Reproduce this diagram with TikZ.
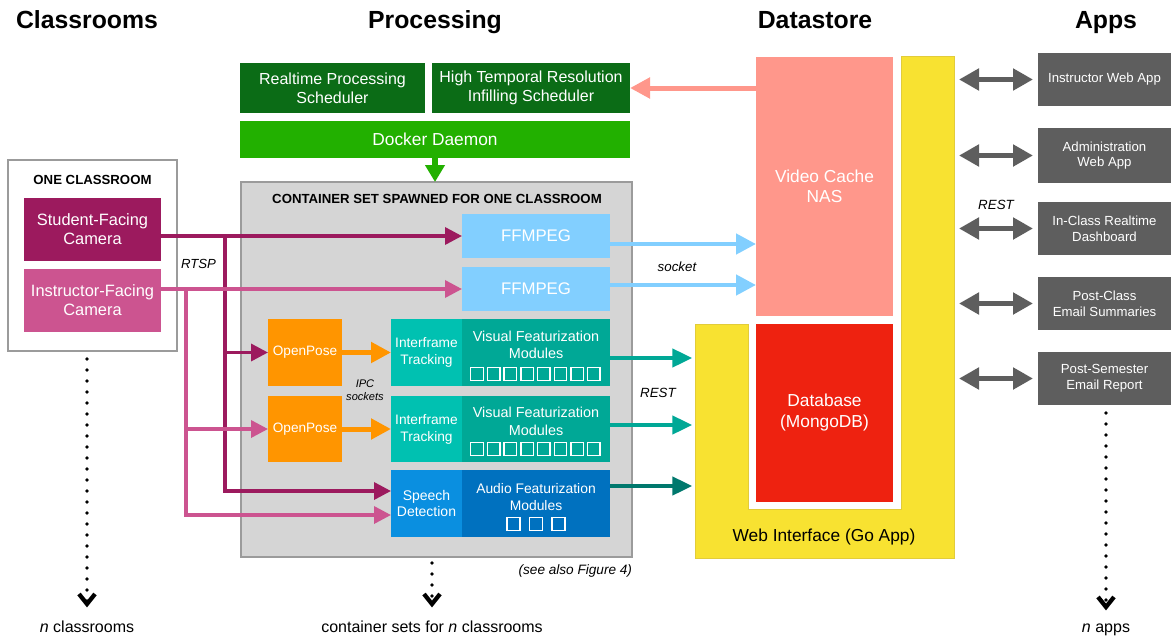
\documentclass[tikz,border=0pt]{standalone}
\usepackage{fontspec}
\setmainfont{Liberation Sans}
\usetikzlibrary{arrows.meta}
\definecolor{stud}{HTML}{9C1A5E}
\definecolor{inst}{HTML}{CC5490}
\definecolor{dgreen}{HTML}{0B6C16}
\definecolor{lgreen}{HTML}{22B000}
\definecolor{contfill}{HTML}{D5D5D5}
\definecolor{contline}{HTML}{9B9B9B}
\definecolor{ffblue}{HTML}{82CFFF}
\definecolor{orng}{HTML}{FF9500}
\definecolor{tealL}{HTML}{00C1B1}
\definecolor{tealD}{HTML}{00A896}
\definecolor{sblue}{HTML}{0A8FE0}
\definecolor{ablue}{HTML}{0071BF}
\definecolor{audT}{HTML}{00786D}
\definecolor{salmon}{HTML}{FF978B}
\definecolor{dbred}{HTML}{EE2210}
\definecolor{yel}{HTML}{F8E231}
\definecolor{yelline}{HTML}{E2CC3A}
\definecolor{appgray}{HTML}{5E5E5E}
\newcommand\bx[7]{\node[#1, minimum width={(#4-#2)*0.75pt}, minimum height={(#5-#3)*0.75pt}] (#6) at ({(#2+#4)/2},{(#3+#5)/2}) {#7};}
\begin{document}
\begin{tikzpicture}[x=0.75pt,y=-0.75pt,
  every node/.style={inner sep=0pt,outer sep=0pt},
  fz/.style 2 args={font=\fontsize{#1}{#2}\selectfont},
  cbox/.style={fill=#1, text=white, align=center},
  hdr/.style={font=\fontsize{18.6}{20}\selectfont\bfseries, anchor=base},
  ttl/.style={font=\fontsize{9.9}{11}\selectfont\bfseries},
  itl/.style={font=\fontsize{9.9}{11}\selectfont\itshape},
  sq/.style={draw=white, line width=1pt},
  magA/.style={draw=stud, line width=2.6pt, -{Triangle[length=12.75pt,width=12.75pt]}},
  pinkA/.style={draw=inst, line width=2.6pt, -{Triangle[length=12.75pt,width=12.75pt]}},
  blueA/.style={draw=ffblue, line width=3.4pt, -{Triangle[length=15pt,width=15pt]}},
  tealA/.style={draw=#1, line width=3.2pt, shorten >=2pt, -{Triangle[length=15pt,width=13.5pt]}},
  orA/.style={draw=orng, line width=3.75pt, -{Triangle[length=15pt,width=15pt]}},
  salA/.style={draw=salmon, line width=3.75pt, -{Triangle[length=15pt,width=15pt]}},
  grnA/.style={draw=lgreen, line width=5pt, -{Triangle[length=12.75pt,width=14.25pt]}},
  grayA/.style={draw=appgray, line width=3.75pt, shorten <=3.75pt, shorten >=3.75pt,
     {Triangle[length=15pt,width=15.75pt]}-{Triangle[length=15pt,width=15.75pt]}},
  dotA/.style={draw=black, line width=2.7pt, line cap=round, dash pattern=on 0pt off 8.25pt,
     -{Straight Barb[length=7.5pt,width=12pt,line width=3.2pt]}},
  lbl/.style={font=\fontsize{12}{14}\selectfont, anchor=base}
]
\useasboundingbox (0,0) rectangle (1171,639);

% headers
\node[hdr] (hC) at (87,28) {Classrooms};
\node[hdr] (hP) at (435,28) {Processing};
\node[hdr] (hD) at (815,28) {Datastore};
\node[hdr] (hA) at (1106,28) {Apps};

% classroom
\bx{draw=contline, fill=white, line width=1.6pt}{8}{160}{177}{351}{cls}{}
\node[ttl] (clst) at (92.5,180) {ONE CLASSROOM};
\bx{cbox=stud, fz={12.3}{14.3}}{24}{198}{161}{261}{scam}{Student-Facing\\Camera}
\bx{cbox=inst, fz={12.3}{14.3}}{24}{269}{161}{332}{icam}{Instructor-Facing\\Camera}

% processing
\bx{cbox=dgreen, fz={12}{14.25}}{240}{63}{425}{113}{rps}{Realtime Processing\\Scheduler}
\bx{cbox=dgreen, fz={12}{14.25}}{432}{63}{630}{113}{ht}{High Temporal Resolution\\Infilling Scheduler}
\bx{cbox=lgreen, fz={13}{15}}{240}{121}{630}{158}{dock}{Docker Daemon}
\bx{draw=contline, fill=contfill, line width=1.8pt}{241}{182}{632}{557}{cont}{}
\node[ttl] (contt) at (437,198.5) {CONTAINER SET SPAWNED FOR ONE CLASSROOM};

\bx{cbox=ffblue, fz={12.6}{14}}{462}{214}{610}{258}{ff1}{FFMPEG}
\bx{cbox=ffblue, fz={12.6}{14}}{462}{267}{610}{311}{ff2}{FFMPEG}

\bx{cbox=orng, fz={10.2}{12}}{268}{319}{342}{386}{op1}{OpenPose}
\bx{cbox=orng, fz={10.2}{12}}{268}{396}{342}{462}{op2}{OpenPose}
\bx{cbox=tealL, fz={10.3}{12.75}}{391}{319}{462}{386}{it1}{Interframe\\Tracking}
\bx{cbox=tealL, fz={10.3}{12.75}}{391}{396}{462}{462}{it2}{Interframe\\Tracking}
\bx{cbox=tealD}{462}{319}{610}{386}{vf1}{}
\bx{cbox=tealD}{462}{396}{610}{462}{vf2}{}
\bx{cbox=sblue, fz={10.5}{12.2}}{391}{470}{462}{537}{sd}{Speech\\Detection}
\bx{cbox=ablue}{462}{470}{610}{537}{af}{}

\node[cbox=none, fill=none, fz={10.8}{13.1}] (vf1t) at (536,345) {Visual Featurization\\Modules};
\node[cbox=none, fill=none, fz={10.8}{13.1}] (vf2t) at (536,421.5) {Visual Featurization\\Modules};
\node[cbox=none, fill=none, fz={10.4}{12.2}] (aft) at (536,497) {Audio Featurization\\Modules};

\foreach \k in {0,...,7} {
  \draw[sq] ({477+16.7*\k-6.25},{374-6.25}) rectangle ++(12.5,12.5);
  \draw[sq] ({477+16.7*\k-6.25},{449-6.25}) rectangle ++(12.5,12.5);
}
\foreach \cx in {513.5,536,558.5} {
  \draw[sq] ({\cx-6.5},{524-6.5}) rectangle ++(13,13);
}

% datastore
\fill[yel, draw=yelline, line width=0.5pt] (695,324) -- (748,324) -- (748,509) -- (901,509) -- (901,56) -- (954,56) -- (954,558) -- (695,558) -- cycle;
\bx{cbox=salmon, fz={13}{15.2}}{756}{57}{893}{316}{nas}{Video Cache\\NAS}
\bx{cbox=dbred, fz={13}{15.75}}{756}{324}{893}{502}{db}{Database\\(MongoDB)}
\node[font=\fontsize{13}{15}\selectfont, anchor=base] (web) at (824,541) {Web Interface (Go App)};
\coordinate (wl) at (695,440);
\coordinate (wr) at (954,300);

% apps
\bx{cbox=appgray, fz={9.9}{11.8}}{1038}{53}{1171}{106}{a1}{Instructor Web App}
\bx{cbox=appgray, fz={9.9}{11.8}}{1038}{128}{1171}{183}{a2}{Administration\\Web App}
\bx{cbox=appgray, fz={9.9}{11.8}}{1038}{202}{1171}{255}{a3}{In-Class Realtime\\Dashboard}
\bx{cbox=appgray, fz={9.9}{11.8}}{1038}{277}{1171}{330}{a4}{Post-Class\\Email Summaries}
\bx{cbox=appgray, fz={9.9}{11.8}}{1038}{352}{1171}{405}{a5}{Post-Semester\\Email Report}

% connectors: cameras
\coordinate (sv) at (225,236);
\coordinate (iv) at (186,289);
\draw[magA] (scam.east |- ff1.west) -- (ff1.west);
\draw[magA] (sv) |- (op1.west);
\draw[magA] (sv) |- ([shift={(0,-12.5)}]sd.west);
\draw[pinkA] (icam.east |- ff2.west) -- (ff2.west);
\draw[pinkA] (iv) |- (op2.west);
\draw[pinkA] (iv) |- ([shift={(0,11.5)}]sd.west);

% processing internal
\draw[grnA] (dock.south) -- (dock.south |- cont.north);
\draw[orA] (op1.east) -- (it1.west);
\draw[orA] (op2.east) -- (it2.west);
\draw[salA] (nas.west |- ht.east) -- (ht.east);

% to datastore
\path ([shift={(0,8)}]ff1.east) coordinate (b1);
\path ([shift={(0,-4)}]ff2.east) coordinate (b2);
\draw[blueA] (b1) -- (b1 -| nas.west);
\draw[blueA] (b2) -- (b2 -| nas.west);
\path ([shift={(0,5.5)}]vf1.east) coordinate (t1);
\path ([shift={(0,-4)}]vf2.east) coordinate (t2);
\path ([shift={(0,-17.5)}]af.east) coordinate (t3);
\draw[tealA=tealD] (t1) -- (t1 -| wl);
\draw[tealA=tealD] (t2) -- (t2 -| wl);
\draw[tealA=audT] (t3) -- (t3 -| wl);

% apps arrows
\foreach \a in {a1,a2,a3,a4,a5} { \draw[grayA] (wr |- \a.west) -- (\a.west); }

% labels
\node[itl] (rtsp) at (198.5,264) {RTSP};
\node[itl, font=\fontsize{10}{11}\selectfont\itshape] (sock) at (677,267) {socket};
\node[itl, font=\fontsize{10}{11}\selectfont\itshape] (rest1) at (658,393) {REST};
\node[itl, font=\fontsize{10}{11}\selectfont\itshape] (rest2) at (996,205) {REST};
\node[align=center, font=\fontsize{8.3}{9.75}\selectfont\itshape] (ipc) at (365,390.5) {IPC\\sockets};
\node[font=\fontsize{10.2}{12}\selectfont\itshape, anchor=east] (see) at (632,571) {(see also Figure 4)};

% dotted continuations
\node[lbl] (ncls) at (87,632) {\textit{n} classrooms};
\node[lbl] (ncont) at (432,632) {container sets for \textit{n} classrooms};
\node[lbl] (napps) at (1106,632) {\textit{n} apps};
\coordinate (d1) at (ncls.north |- cls.south);
\coordinate (d2) at (ncont.north |- cont.south);
\coordinate (d3) at (napps.north |- a5.south);
\draw[dotA] ([shift={(0,8)}]d1) -- ([shift={(0,-13)}]ncls.north);
\draw[dotA] ([shift={(0,6)}]d2) -- ([shift={(0,-13)}]ncont.north);
\draw[dotA] ([shift={(0,8)}]d3) -- ([shift={(0,-13)}]napps.north);
\end{tikzpicture}
\end{document}
